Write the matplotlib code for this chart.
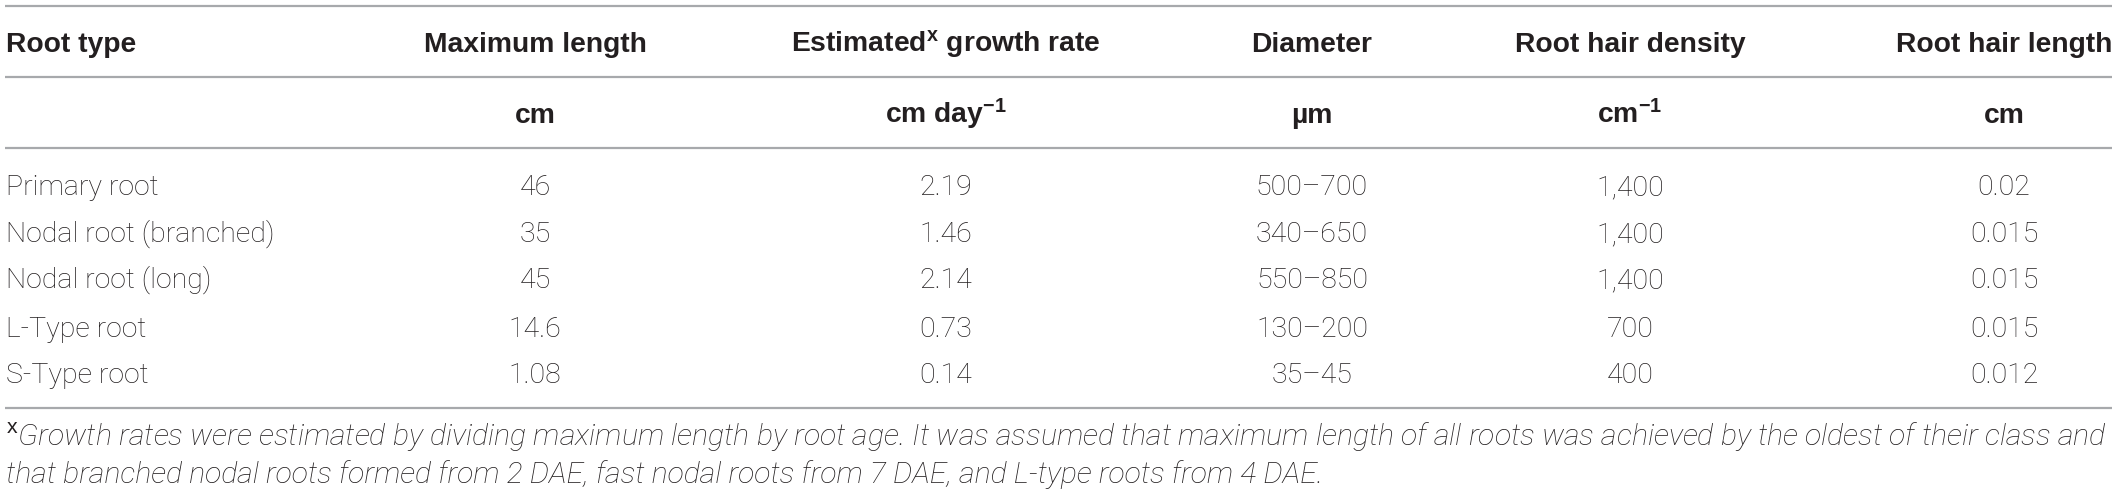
import matplotlib
matplotlib.use("Agg")
import matplotlib.pyplot as plt

plt.rcParams['mathtext.fontset'] = 'custom'
plt.rcParams['mathtext.rm'] = 'Liberation Sans'
plt.rcParams['mathtext.it'] = 'Liberation Sans:italic'
plt.rcParams['mathtext.bf'] = 'Liberation Sans:bold'

# ---- data ----
headers = ["Root type", "Maximum length", r"Estimated$^{\mathbf{x}}$ growth rate",
           "Diameter", "Root hair density", "Root hair length"]
units = ["", "cm", r"cm day$^{\mathbf{-1}}$", "µm", r"cm$^{\mathbf{-1}}$", "cm"]
root_types = ["Primary root", "Nodal root (branched)", "Nodal root (long)",
              "L-Type root", "S-Type root"]
max_length = ["46", "35", "45", "14.6", "1.08"]
growth_rate = ["2.19", "1.46", "2.14", "0.73", "0.14"]
diameter = ["500–700", "340–650", "550–850", "130–200", "35–45"]
hair_density = ["1,400", "1,400", "1,400", "700", "400"]
hair_length = ["0.02", "0.015", "0.015", "0.015", "0.012"]
footnote = [
    r"$^{\mathrm{x}}$Growth rates were estimated by dividing maximum length by root age. "
    "It was assumed that maximum length of all roots was achieved by the oldest of their class and",
    "that branched nodal roots formed from 2 DAE, fast nodal roots from 7 DAE, and L-type roots from 4 DAE.",
]

W, H = 2117, 496
fig = plt.figure(figsize=(W / 100, H / 100), dpi=100)
ax = fig.add_axes([0, 0, 1, 1])
ax.set_xlim(0, W)
ax.set_ylim(H, 0)
ax.axis('off')

col_x = [6, 535, 946, 1312, 1630, 2004]
header_y = 52
unit_y = 123
row_y = [195, 242, 288, 337, 383]
foot_y = [445, 483]
rule_y = [6, 77, 148, 408]

body_font = dict(family='Roboto', fontweight='light', fontsize=20.5, color='#231f20')
bold_font = dict(family='Liberation Sans', fontweight='bold', fontsize=20.3, color='#231f20')

for y in rule_y:
    ax.plot([5, 2112], [y, y], color='#a7a9ac', lw=1.6, solid_capstyle='butt')

for i, h in enumerate(headers):
    ha = 'left' if i == 0 else 'center'
    ax.text(col_x[i], header_y, h, ha=ha, va='baseline', **bold_font)
for i, u in enumerate(units):
    if u:
        ax.text(col_x[i], unit_y, u, ha='center', va='baseline', **bold_font)

columns = [max_length, growth_rate, diameter, hair_density, hair_length]
for r, y in enumerate(row_y):
    ax.text(col_x[0], y, root_types[r], ha='left', va='baseline', **body_font)
    for c, col in enumerate(columns):
        ax.text(col_x[c + 1], y, col[r], ha='center', va='baseline', **body_font)

foot_font = dict(family='Roboto', fontweight='light', fontstyle='italic',
                 fontsize=20, color='#231f20')
foot_texts = [ax.text(6, y, line, ha='left', va='baseline', **foot_font)
              for line, y in zip(footnote, foot_y)]

# fit footnote so that its first line spans the table width
fig.canvas.draw()
renderer = fig.canvas.get_renderer()
bb = foot_texts[0].get_window_extent(renderer)
target = 2108 - 6
scale = target / bb.width
for t in foot_texts:
    t.set_fontsize(min(foot_font['fontsize'] * scale, 22))

fig.savefig("out.png", dpi=100)
